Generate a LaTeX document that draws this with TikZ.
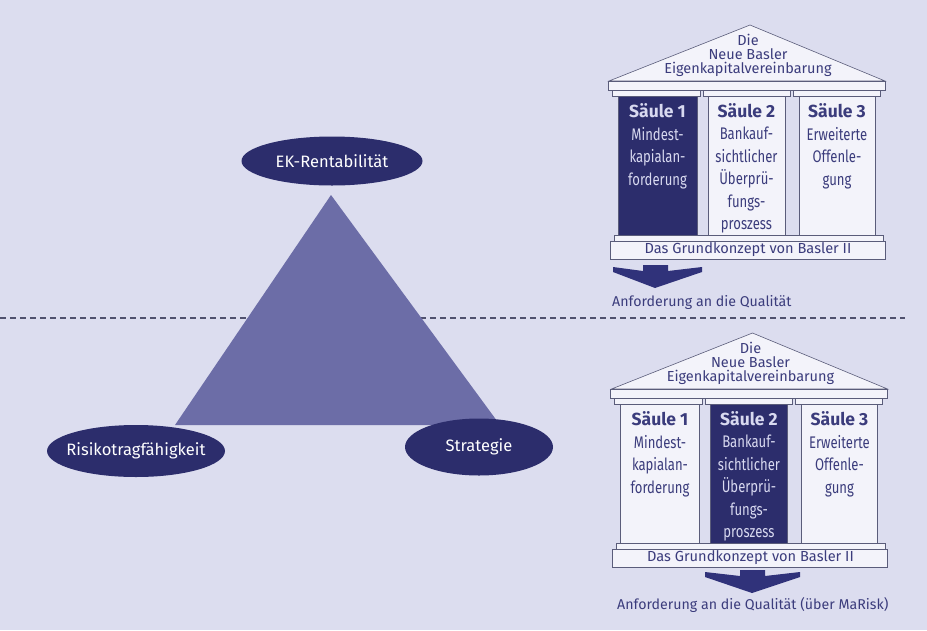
\documentclass[tikz,border=0pt]{standalone}
\usepackage{fontspec}
\setmainfont{Fira Sans}
\newfontfamily\narrowfont[FakeStretch=0.78]{Fira Sans}
\usetikzlibrary{shapes.geometric}
\definecolor{pagebg}{HTML}{DCDDEF}
\definecolor{navy}{HTML}{2C2D6C}
\definecolor{trifill}{HTML}{6C6DA7}
\definecolor{templefill}{HTML}{F3F3FA}
\definecolor{templeline}{HTML}{5A5C7A}
\definecolor{templetext}{HTML}{3B3C7C}
\definecolor{lighttext}{HTML}{D8D9F0}
\definecolor{dashcol}{HTML}{50516E}
\definecolor{arrowcol}{HTML}{30327A}
\newcommand\drawtemple[5]{%
  \draw[part] (609,81) -- (750,25) -- (885,81) -- cycle;
  \node[rooftext] (#1roof) at (748,55) {Die\\Neue Basler\\Eigenkapitalvereinbarung};
  \draw[part] (608,81) rectangle (885,90);
  \draw[part] (612,90) rectangle (700,96);
  \draw[part] (703,90) rectangle (790,96);
  \draw[part] (793,90) rectangle (880,96);
  \draw[part,fill=#2] (618,96) rectangle (697,235);
  \draw[part,fill=#4] (708,96) rectangle (785,235);
  \draw[part] (799,96) rectangle (875,235);
  \node[pillartitle,text=#3] (#1t1) at (657.5,110.5) {Säule 1};
  \node[pillartext,text=#3] (#1b1) at (657.5,127) {Mindest-\\kapialan-\\forderung};
  \node[pillartitle,text=#5] (#1t2) at (746.5,110.5) {Säule 2};
  \node[pillartext,text=#5] (#1b2) at (746.5,127) {Bankauf-\\sichtlicher\\Überprü-\\fungs-\\proszess};
  \node[pillartitle] (#1t3) at (837,110.5) {Säule 3};
  \node[pillartext] (#1b3) at (837,127) {Erweiterte\\Offenle-\\gung};
  \draw[part] (614,235) rectangle (883,241);
  \draw[part] (610,241) rectangle (885,259);
  \node[basetext] (#1base) at (748,250) {Das Grundkonzept von Basler II};
}
\begin{document}
\begin{tikzpicture}[x=1pt,y=-1pt,
  goal/.style={ellipse, fill=navy, inner sep=0pt},
  goaltext/.style={text=white, inner sep=0pt,
    font=\fontsize{16.5}{18}\selectfont},
  part/.style={fill=templefill, draw=templeline, line width=0.6pt},
  rooftext/.style={align=center, text=templetext, inner sep=0pt,
    font=\fontsize{14.5}{14}\selectfont},
  pillartitle/.style={text=templetext, inner sep=0pt,
    font=\fontsize{17.5}{19}\selectfont\bfseries},
  pillartext/.style={anchor=north, align=center, text=templetext, inner sep=0pt,
    font=\narrowfont\fontsize{16.8}{22.5}\selectfont},
  basetext/.style={text=templetext, inner sep=0pt,
    font=\fontsize{14.6}{15}\selectfont},
  caption/.style={anchor=west, text=templetext, inner sep=0pt,
    font=\fontsize{14.2}{15}\selectfont},
  bigarrow/.style={fill=arrowcol, draw=none}]
\fill[pagebg] (0,0) rectangle (927,630);
\useasboundingbox (0,0) rectangle (927,630);
% dashed divider
\coordinate (dl) at (0,318);
\coordinate (dr) at (905,318);
\draw[dashcol, line width=1.1pt, dash pattern=on 6pt off 4pt] (dl) -- (dr);
% triangle
\coordinate (ta) at (331,195);
\coordinate (tl) at (175,425);
\coordinate (tr) at (500,425);
\fill[trifill] (ta) -- (tl) -- (tr) -- cycle;
% ellipses
\node[goal, minimum width=181pt, minimum height=49pt] (ek) at (332,161) {};
\node[goaltext] (eklabel) at (ek.center) {EK-Rentabilität};
\node[goal, minimum width=178pt, minimum height=52pt] (risk) at (136,451) {};
\node[goaltext] (risklabel) at (risk.center) {Risikotragfähigkeit};
\node[goal, minimum width=148pt, minimum height=57pt] (strat) at (479,447) {};
\node[goaltext] (stratlabel) at (strat.center) {Strategie};
% temple 1
\drawtemple{a}{navy}{lighttext}{templefill}{templetext}
\fill[bigarrow] (643,265) -- (668,265) -- (668,271) -- (702,267) -- (702,272) -- (655,288) -- (613,272) -- (613,267) -- (643,271) -- cycle;
\node[caption] (cap1) at (612,302) {Anforderung an die Qualität};
% temple 2
\begin{scope}[shift={(2.5,308)}]
\drawtemple{b}{templefill}{templetext}{navy}{lighttext}
\end{scope}
\fill[bigarrow] (740,570) -- (765,570) -- (765,576) -- (800,572) -- (800,577) -- (752,593) -- (705,577) -- (705,572) -- (740,576) -- cycle;
\node[caption] (cap2) at (617,605) {Anforderung an die Qualität (über MaRisk)};
\end{tikzpicture}
\end{document}
